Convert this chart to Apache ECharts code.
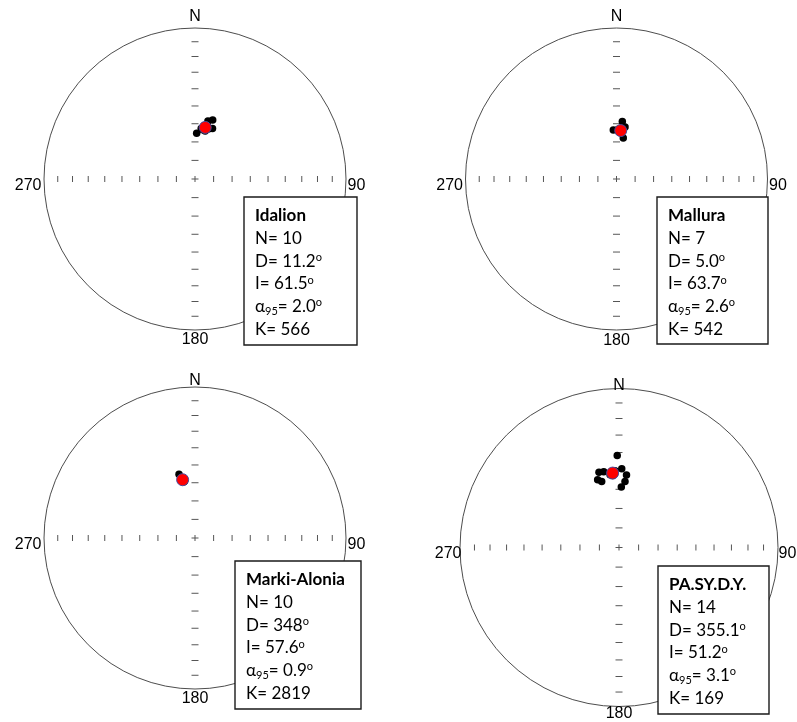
<!DOCTYPE html>
<html>
<head>
<meta charset="utf-8">
<script src="https://cdn.jsdelivr.net/npm/echarts@6/dist/echarts.min.js"></script>
<style>
  html, body { margin: 0; padding: 0; background: #ffffff; }
  #chart { width: 797px; height: 722px; }
</style>
</head>
<body>
<div id="chart"></div>
<script>
// Site names
const sites = ['Idalion', 'Mallura', 'Marki-Alonia', 'PA.SY.D.Y.'];

// Specimen directions per site: declination / inclination (degrees)
const idalionDec = [2.1, 12.6, 16.7, 19.1, 9.0, 13.0, 7.0, 15.0, 10.0, 12.0];
const idalionInc = [65.3, 57.7, 56.5, 61.0, 63.0, 60.0, 62.5, 62.0, 60.5, 63.5];

const malluraDec = [5.8, 356.3, 9.4, 9.3, 3.0, 6.0, 2.0];
const malluraInc = [58.6, 63.4, 67.6, 61.4, 64.5, 62.5, 63.0];

const markiDec = [345.9, 348.5, 349.0, 348.5, 347.5, 349.5, 348.0, 349.0, 348.0, 349.5];
const markiInc = [54.2, 58.0, 57.2, 58.3, 57.8, 58.0, 57.0, 58.8, 57.5, 58.5];

const pasydyDec = [358.9, 2.0, 5.9, 5.2, 2.2, 345.1, 348.6, 342.5, 345.3, 354.0, 356.5, 353.0, 357.0, 355.0];
const pasydyInc = [41.7, 49.0, 52.2, 55.7, 58.8, 49.5, 49.8, 53.2, 54.7, 50.5, 51.5, 52.0, 50.0, 52.5];

// Site mean statistics
const siteN = [10, 7, 10, 14];
const meanDec = [11.2, 5.0, 348, 355.1];
const meanDecDigits = [1, 1, 0, 1];
const meanInc = [61.5, 63.7, 57.6, 51.2];
const alpha95 = [2.0, 2.6, 0.9, 3.1];
const kappa = [566, 542, 2819, 169];

// Inclination graduations along the N-S and E-W diameters
const tickInc = [80, 70, 60, 50, 40, 30, 20, 10];

// Compass labels around the primitive circle
const compassText = ['N', '90', '180', '270'];
const compassAngle = [0, 90, 180, 270];

const specimenDec = [idalionDec, malluraDec, markiDec, pasydyDec];
const specimenInc = [idalionInc, malluraInc, markiInc, pasydyInc];

// Panel placement: net centre/radius, statistics box, label offsets
const panels = [
  { cx: 195,   cy: 179,   r: 151, box: [244, 197, 113, 148], nDist: 3,  sDist: 1,  wDist: 2,  eDist: 1, dy: 7 },
  { cx: 616.5, cy: 179,   r: 151, box: [657, 197, 111, 147], nDist: 3,  sDist: 2,  wDist: 2,  eDist: 1, dy: 7 },
  { cx: 195,   cy: 538,   r: 151, box: [235, 561, 126, 148], nDist: -2, sDist: 1,  wDist: 2,  eDist: 1, dy: 7 },
  { cx: 619,   cy: 547.5, r: 159, box: [658, 566, 111, 148], nDist: -6, sDist: -1, wDist: -2, eDist: 0, dy: 6.5 }
];

// Lambert equal-area (Schmidt) net: radius as a fraction of the primitive
const eqArea = inc => Math.SQRT2 * Math.sin((90 - Math.abs(inc)) / 2 * Math.PI / 180);

const tickColor = '#555555';
const series = [];

panels.forEach((p, i) => {
  // graduations on the N-S diameter (short horizontal dashes)
  const nsTicks = [[0, 0]];
  tickInc.forEach(v => { nsTicks.push([eqArea(v), 0]); nsTicks.push([eqArea(v), 180]); });
  series.push({
    type: 'scatter', coordinateSystem: 'polar', polarIndex: i, silent: true,
    symbol: 'rect', symbolSize: [7, 1], itemStyle: { color: tickColor, opacity: 1 },
    data: nsTicks, z: 1
  });
  // graduations on the E-W diameter (short vertical bars)
  const ewTicks = [[0, 0]];
  tickInc.forEach(v => { ewTicks.push([eqArea(v), 90]); ewTicks.push([eqArea(v), 270]); });
  series.push({
    type: 'scatter', coordinateSystem: 'polar', polarIndex: i, silent: true,
    symbol: 'rect', symbolSize: [1, 6], itemStyle: { color: tickColor, opacity: 1 },
    data: ewTicks, z: 1
  });
  // specimen directions
  series.push({
    type: 'scatter', coordinateSystem: 'polar', polarIndex: i, silent: true,
    symbol: 'circle', symbolSize: 7.5, itemStyle: { color: '#000000', opacity: 1 },
    data: specimenDec[i].map((d, k) => [eqArea(specimenInc[i][k]), d]), z: 2
  });
  // site mean direction
  series.push({
    type: 'scatter', coordinateSystem: 'polar', polarIndex: i, silent: true,
    symbol: 'circle', symbolSize: 12,
    itemStyle: { color: '#ff0000', borderColor: '#4a4a9c', borderWidth: 1, opacity: 1 },
    data: [[eqArea(meanInc[i]), meanDec[i]]], z: 3
  });
  // compass labels
  const pos = ['top', 'right', 'bottom', 'left'];
  const dist = [p.nDist, p.eDist, p.sDist, p.wDist];
  series.push({
    type: 'scatter', coordinateSystem: 'polar', polarIndex: i, silent: true,
    symbolSize: 1, itemStyle: { color: 'rgba(0,0,0,0)', opacity: 1 },
    data: compassText.map((t, k) => ({
      value: [1, compassAngle[k]],
      label: {
        show: true, formatter: t, position: pos[k], distance: dist[k],
        offset: (k === 1 || k === 3) ? [0, p.dy] : [0, 0],
        fontFamily: 'Liberation Sans, Arial, sans-serif', fontSize: 16, color: '#000000'
      }
    })), z: 4
  });
});

// statistics boxes
const rich = {
  b: { fontFamily: 'Lato', fontWeight: 'bold', fontSize: 17, lineHeight: 22.7, fill: '#000' },
  t: { fontFamily: 'Lato', fontSize: 17, lineHeight: 22.7, fill: '#000' },
  s: { fontFamily: 'Lato', fontSize: 11, verticalAlign: 'top', padding: [2, 0, 0, 0], fill: '#000' },
  d: { fontFamily: 'Lato', fontSize: 11, verticalAlign: 'bottom', padding: [0, 0, 1, 0], fill: '#000' }
};
const graphic = panels.map((p, i) => {
  const [bx, by, bw, bh] = p.box;
  const lines = [
    `{b|${sites[i]}}`,
    `{t|N= ${siteN[i]}}`,
    `{t|D= ${meanDec[i].toFixed(meanDecDigits[i])}}{s|o}`,
    `{t|I= ${meanInc[i].toFixed(1)}}{s|o}`,
    `{t|\u03b1}{d|95}{t|= ${alpha95[i].toFixed(1)}}{s|o}`,
    `{t|K= ${kappa[i]}}`
  ];
  return {
    type: 'group', z: 100, zlevel: 1,
    children: [
      { type: 'rect', z: 100, zlevel: 1, shape: { x: bx, y: by, width: bw, height: bh },
        style: { fill: '#ffffff', stroke: '#1a1a1a', lineWidth: 1.4 } },
      { type: 'text', z: 101, zlevel: 1, x: bx + 11, y: by + 7.5,
        style: { text: lines.join('\n'), rich: rich, fill: '#000',
                 font: '17px Lato', verticalAlign: 'top', align: 'left' } }
    ]
  };
});

const chart = echarts.init(document.getElementById('chart'), null, { renderer: 'canvas' });
chart.setOption({
  backgroundColor: '#ffffff',
  animation: false,
  polar: panels.map(p => ({ center: [p.cx, p.cy], radius: p.r })),
  angleAxis: panels.map((p, i) => ({
    polarIndex: i, type: 'value', min: 0, max: 360, startAngle: 90, clockwise: true,
    axisLine: { show: true, lineStyle: { color: '#4d4d4d', width: 1 } },
    axisTick: { show: false }, axisLabel: { show: false }, splitLine: { show: false }
  })),
  radiusAxis: panels.map((p, i) => ({
    polarIndex: i, type: 'value', min: 0, max: 1, show: false,
    axisLine: { show: false }, axisTick: { show: false }, axisLabel: { show: false }, splitLine: { show: false }
  })),
  series: series,
  graphic: graphic
});
</script>
</body>
</html>
